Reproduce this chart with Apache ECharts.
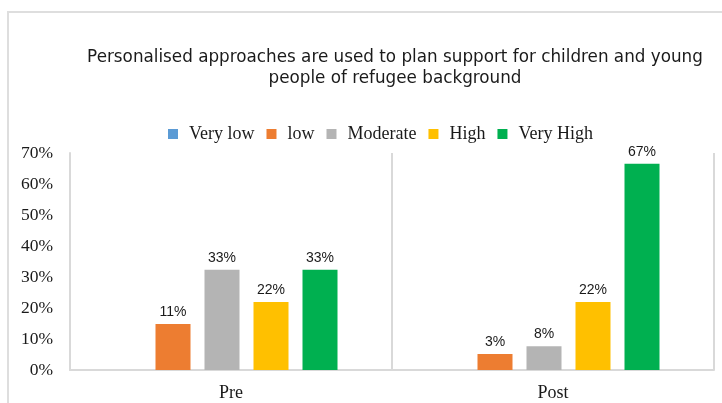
<!DOCTYPE html>
<html>
<head>
<meta charset="utf-8">
<script src="https://cdn.jsdelivr.net/npm/echarts@6/dist/echarts.min.js"></script>
<style>
html,body{margin:0;padding:0;background:#fff;}
#chart{width:722px;height:403px;}
</style>
</head>
<body>
<div id="chart"></div>
<script>
const categories = ['Pre', 'Post'];
const levels = ['Very low', 'low', 'Moderate', 'High', 'Very High'];
const levelColors = ['#5B9BD5', '#ED7D31', '#B4B4B4', '#FFC000', '#00B050'];
// bar heights as drawn (percent)
const veryLow = [0, 0];
const low = [14.8, 5.2];
const moderate = [32.3, 7.7];
const high = [21.9, 21.9];
const veryHigh = [32.3, 66.5];
// data label texts as printed
const veryLowLabels = ['', ''];
const lowLabels = ['11%', '3%'];
const moderateLabels = ['33%', '8%'];
const highLabels = ['22%', '22%'];
const veryHighLabels = ['33%', '67%'];
const yTicks = [0, 10, 20, 30, 40, 50, 60, 70];

const seriesValues = [veryLow, low, moderate, high, veryHigh];
const seriesLabels = [veryLowLabels, lowLabels, moderateLabels, highLabels, veryHighLabels];

const chart = echarts.init(document.getElementById('chart'), null, {renderer: 'canvas'});
const serif = '"Liberation Serif", "Times New Roman", serif';
const sans = '"DejaVu Sans", "Liberation Sans", Arial, sans-serif';

const option = {
  animation: false,
  backgroundColor: '#fff',
  title: {
    text: 'Personalised approaches are used to plan support for children and young\npeople of refugee background',
    left: 395,
    top: 47,
    padding: 0,
    textAlign: 'center',
    textStyle: {fontFamily: sans, fontSize: 16.8, fontWeight: 'normal', color: '#1a1a1a', lineHeight: 21}
  },
  legend: {
    data: levels,
    left: 168,
    top: 125,
    padding: 0,
    itemWidth: 10,
    itemHeight: 10,
    itemGap: 12,
    icon: 'rect',
    textStyle: {fontFamily: serif, fontSize: 18, color: '#1a1a1a', padding: [0, 0, 0, 6]}
  },
  graphic: [{
    type: 'rect', silent: true, z: -1,
    shape: {x: 8, y: 12, width: 800, height: 500},
    style: {fill: 'none', stroke: '#dedede', lineWidth: 2}
  }],
  grid: [
    {left: 70, right: 8, top: 153, bottom: 33},
    {left: 61, right: 17, top: 153, bottom: 33}
  ],
  xAxis: [
    {
      type: 'category', gridIndex: 0, data: categories,
      axisLine: {show: true, lineStyle: {color: '#d9d9d9', width: 2}},
      axisTick: {show: false},
      splitLine: {show: true, lineStyle: {color: '#d9d9d9', width: 2}},
      axisLabel: {fontFamily: serif, fontSize: 18, color: '#1a1a1a', margin: 14}
    },
    {
      type: 'category', gridIndex: 1, data: categories, show: false
    }
  ],
  yAxis: [
    {
      type: 'value', gridIndex: 0, min: 0, max: 70, interval: 10,
      axisLine: {show: true, lineStyle: {color: '#d9d9d9', width: 2}},
      axisTick: {show: false},
      splitLine: {show: false},
      axisLabel: {
        fontFamily: serif, fontSize: 17.5, color: '#1a1a1a', margin: 17,
        padding: [0, 0, 10, 0],
        formatter: v => yTicks.includes(v) ? v + '%' : ''
      }
    },
    {
      type: 'value', gridIndex: 1, min: 0, max: 70, interval: 10, show: false
    }
  ],
  series: levels.map((name, i) => ({
    name: name,
    type: 'bar',
    xAxisIndex: 1,
    yAxisIndex: 1,
    barWidth: 35,
    barGap: '40%',
    itemStyle: {color: levelColors[i]},
    label: {
      show: true,
      position: 'top',
      distance: 5,
      fontFamily: '"Liberation Sans", Arial, sans-serif',
      fontSize: 14,
      color: '#1a1a1a',
      formatter: p => seriesLabels[i][p.dataIndex]
    },
    data: seriesValues[i]
  }))
};
chart.setOption(option);
</script>
</body>
</html>
